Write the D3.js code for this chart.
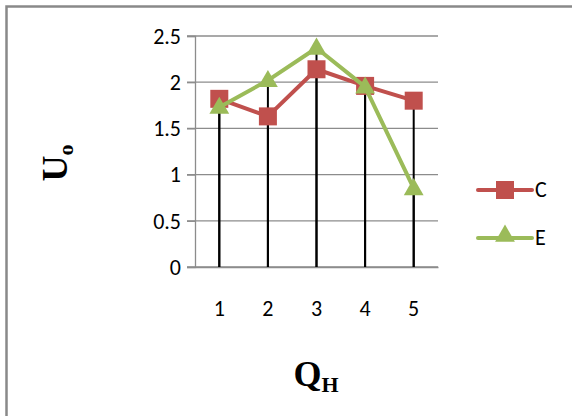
<!DOCTYPE html>
<html><head><meta charset="utf-8">
<script src="https://cdn.jsdelivr.net/npm/d3@7"></script>
<style>body{margin:0;background:#fff}svg{display:block}</style>
</head><body>
<script>
const categories = ["1","2","3","4","5"];
const seriesC = [1.82, 1.63, 2.14, 1.96, 1.80];
const seriesE = [1.73, 2.02, 2.37, 1.95, 0.85];
const seriesNames = ["C","E"];
const yTicks = [0, 0.5, 1, 1.5, 2, 2.5];

const W = 572, H = 416;
const svg = d3.select("body").append("svg").attr("width", W).attr("height", H);

svg.append("rect").attr("x", 6.5).attr("y", 6.5).attr("width", 700).attr("height", 600)
  .attr("fill", "none").attr("stroke", "#898989").attr("stroke-width", 2.5);

const x = d3.scaleBand().domain(categories).range([195, 438]);
const y = d3.scaleLinear().domain([0, 2.5]).range([267, 36]);
const font = "Carlito, 'Open Sans', 'Liberation Sans', sans-serif";

svg.append("g").selectAll("line").data(yTicks).join("line")
  .attr("x1", 187).attr("x2", 438)
  .attr("y1", d => y(d)).attr("y2", d => y(d))
  .attr("stroke", "#8c8c8c").attr("stroke-width", 1.3);

const yAxis = svg.append("g").attr("transform", "translate(195,0)")
  .call(d3.axisLeft(y).tickValues(yTicks).tickSize(8).tickPadding(6).tickFormat(d => d));
yAxis.attr("font-size", null).attr("font-family", null);
yAxis.select(".domain").attr("stroke", "#8c8c8c").attr("stroke-width", 1.3);
yAxis.selectAll(".tick line").attr("stroke", "#8c8c8c").attr("stroke-width", 1.3);
yAxis.selectAll("text").style("font-family", font).style("font-size", "22px").attr("fill", "#000").attr("dy", "0.33em");

const xAxis = svg.append("g").attr("transform", "translate(0,267)")
  .call(d3.axisBottom(x).tickSize(0).tickPadding(36));
xAxis.attr("font-size", null).attr("font-family", null);
xAxis.select(".domain").attr("stroke", "#8c8c8c").attr("stroke-width", 1.3);
xAxis.selectAll("text").style("font-family", font).style("font-size", "22px").attr("fill", "#000").attr("dy", "0.6em");

const cx = d => x(d) + x.bandwidth() / 2;

[seriesC, seriesE].forEach(s => {
  svg.append("g").selectAll("line").data(categories).join("line")
    .attr("x1", cx).attr("x2", cx)
    .attr("y1", y(0)).attr("y2", (d, i) => y(s[i]))
    .attr("stroke", "#000").attr("stroke-width", 2);
});

const line = d3.line().x((d, i) => cx(categories[i])).y(d => y(d));
const cC = "#C0504D", cE = "#9BBB59";

svg.append("path").datum(seriesC).attr("d", line).attr("fill", "none")
  .attr("stroke", cC).attr("stroke-width", 4).attr("stroke-linejoin", "round");
svg.append("g").selectAll("rect").data(seriesC).join("rect")
  .attr("x", (d, i) => cx(categories[i]) - 9).attr("y", d => y(d) - 9)
  .attr("width", 18).attr("height", 18).attr("fill", cC);

svg.append("path").datum(seriesE).attr("d", line).attr("fill", "none")
  .attr("stroke", cE).attr("stroke-width", 4).attr("stroke-linejoin", "round");
const tri = d3.symbol().type(d3.symbolTriangle).size(170);
svg.append("g").selectAll("path").data(seriesE).join("path")
  .attr("d", tri)
  .attr("transform", (d, i) => `translate(${cx(categories[i])},${y(d) + 1})`)
  .attr("fill", cE);

const leg = [{name: seriesNames[0], color: cC, sym: "sq", yy: 190},
             {name: seriesNames[1], color: cE, sym: "tri", yy: 238}];
leg.forEach(l => {
  const g = svg.append("g");
  g.append("line").attr("x1", 478).attr("x2", 532).attr("y1", l.yy).attr("y2", l.yy)
    .attr("stroke", l.color).attr("stroke-width", 4).attr("stroke-linecap", "round");
  if (l.sym === "sq") {
    g.append("rect").attr("x", 496).attr("y", l.yy - 9).attr("width", 18).attr("height", 18).attr("fill", l.color);
  } else {
    g.append("path").attr("d", tri).attr("transform", `translate(505,${l.yy - 2})`).attr("fill", l.color);
  }
  g.append("text").attr("x", 535).attr("y", l.yy + 7).text(l.name)
    .style("font-family", font).style("font-size", "22px").attr("fill", "#000");
});

const tfont = "'Liberation Serif', 'DejaVu Serif', serif";
const yt = svg.append("text").attr("transform", "translate(67,163) rotate(-90)")
  .attr("text-anchor", "middle").style("font-family", tfont).style("font-weight", "bold").style("font-size", "36px");
yt.append("tspan").text("U");
yt.append("tspan").text("o").style("font-size", "22px").attr("dy", 6);

const xt = svg.append("text").attr("x", 316).attr("y", 386)
  .attr("text-anchor", "middle").style("font-family", tfont).style("font-weight", "bold").style("font-size", "36px");
xt.append("tspan").text("Q");
xt.append("tspan").text("H").style("font-size", "22px").attr("dy", 6);
</script>
</body></html>
